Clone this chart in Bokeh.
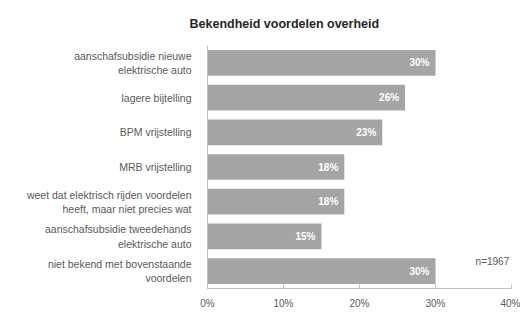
from bokeh.plotting import figure
from bokeh.models import FixedTicker, NumeralTickFormatter, Range1d
from bokeh.core.properties import value
from bokeh.embed import file_html
from bokeh.resources import INLINE

categories = [
    "aanschafsubsidie nieuwe\nelektrische auto",
    "lagere bijtelling",
    "BPM vrijstelling",
    "MRB vrijstelling",
    "weet dat elektrisch rijden voordelen\nheeft, maar niet precies wat",
    "aanschafsubsidie tweedehands\nelektrische auto",
    "niet bekend met bovenstaande\nvoordelen",
]
values = [0.30, 0.26, 0.23, 0.18, 0.18, 0.15, 0.30]
value_labels = ["30%", "26%", "23%", "18%", "18%", "15%", "30%"]
x_ticks = [0, 0.1, 0.2, 0.3, 0.4]
title_text = "Bekendheid voordelen overheid"
note_text = "n=1967"

FONT = "Liberation Sans"
GRAY = "#595959"

W, H = 520, 311
BL, BR, BT, BB = 207, 9, 44, 19
p = figure(width=W, height=H, y_range=list(reversed(categories)),
           x_range=Range1d(0, 0.4), output_backend="svg", toolbar_location=None,
           min_border_left=BL, min_border_right=BR, min_border_top=BT,
           min_border_bottom=BB, title=title_text)
p.outline_line_color = None
p.grid.grid_line_color = None
p.background_fill_color = "white"

p.title.align = "left"
p.title.offset = -18
p.title.text_font = FONT
p.title.text_font_size = "12.5px"
p.title.text_font_style = "bold"
p.title.text_color = "#262626"
p.title.standoff = 29

p.hbar(y=categories, right=values, left=0, height=0.74,
       fill_color="#a5a5a5", line_color=None)

p.text(x=values, y=categories, text=value_labels, x_offset=-6,
       text_align="right", text_baseline="middle", text_color="white",
       text_font=value(FONT), text_font_size="10px", text_font_style="bold")

p.text(x=[0.397], y=[categories[-1]], text=[note_text], y_offset=-10,
       text_align="right", text_baseline="middle", text_color=GRAY,
       text_font=value(FONT), text_font_size="10px")

xa = p.xaxis[0]
xa.ticker = FixedTicker(ticks=x_ticks)
xa.formatter = NumeralTickFormatter(format="0%")
xa.major_tick_in = 4
xa.major_tick_out = 0
xa.minor_tick_line_color = None
xa.axis_line_color = "#bfbfbf"
xa.major_tick_line_color = "#bfbfbf"
xa.major_label_text_font = FONT
xa.major_label_text_font_size = "10px"
xa.major_label_text_color = GRAY
xa.major_label_standoff = 9

ya = p.yaxis[0]
ya.major_tick_line_color = None
ya.minor_tick_line_color = None
ya.axis_line_color = "#bfbfbf"
ya.major_label_text_font = FONT
ya.major_label_text_font_size = "10.5px"
ya.major_label_text_color = GRAY
ya.major_label_standoff = 10
ya.major_label_text_align = "center"

open("out.html", "w").write(file_html(p, INLINE))
